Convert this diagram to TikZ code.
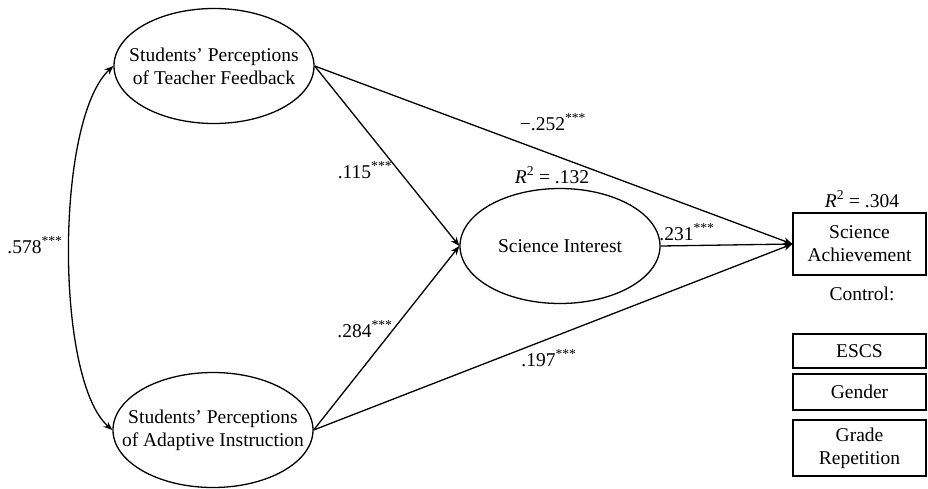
\documentclass[tikz,border=0pt]{standalone}
\usepackage{fontspec}
\setmainfont{Liberation Serif}
\usetikzlibrary{shapes.geometric,arrows.meta}
\begin{document}
\begin{tikzpicture}[x=1pt,y=-1pt,
  every node/.style={font=\fontsize{19.5}{23}\selectfont},
  latent/.style={draw,line width=1.3pt,ellipse,minimum width=200pt,minimum height=115pt,inner sep=0pt},
  intext/.style={align=center,inner sep=0pt},
  obs/.style={draw,line width=1.2pt,rectangle,minimum width=133pt,inner sep=0pt,align=center},
  path/.style={line width=1.3pt,-{Stealth[length=9pt,width=7pt]}},
  lab/.style={anchor=base,inner sep=0pt}]
\useasboundingbox (0,0) rectangle (928,488);
\node[latent] (tf) at (214,66) {};
\node[intext] (tft) at (tf) {Students’ Perceptions\\of Teacher Feedback};
\node[latent] (ai) at (213,430) {};
\node[intext] (ait) at (ai) {Students’ Perceptions\\of Adaptive Instruction};
\node[latent] (si) at (560,246) {};
\node[intext] (sit) at (si) {Science Interest};
\node[obs,minimum height=62pt] (sa) at (859.5,244) {Science\\Achievement};
\node[obs,minimum height=34pt] (escs) at (859.5,351) {ESCS};
\node[obs,minimum height=36pt] (gen) at (859.5,392) {Gender};
\node[obs,minimum height=56pt] (gr) at (859.5,448) {Grade\\Repetition};
\node[lab] (r2a) at (862,207) {\textit{R}\textsuperscript{2} = .304};
\node[lab] (ctl) at (862,300) {Control:};
\node[lab] (r2i) at (552,183) {\textit{R}\textsuperscript{2} = .132};
\draw[path] (tf.east) -- (sa.west);
\draw[path] (ai.east) -- (sa.west);
\draw[path] (si.east) -- (sa.west);
\draw[path] (tf.east) -- (si.west);
\draw[path] (ai.east) -- (si.west);
\draw[line width=1.3pt,{Stealth[length=9pt,width=7pt]}-{Stealth[length=9pt,width=7pt]}] (tf.west) .. controls (55,120) and (55,380) .. (ai.west);
\node[lab] (l1) at (553,130) {−.252\textsuperscript{***}};
\node[lab] (l2) at (365,178) {.115\textsuperscript{***}};
\node[lab] (l3) at (365,337) {.284\textsuperscript{***}};
\node[lab] (l4) at (549,366) {.197\textsuperscript{***}};
\node[lab] (l5) at (687,240) {.231\textsuperscript{***}};
\node[lab] (l6) at (35,253) {.578\textsuperscript{***}};
\end{tikzpicture}
\end{document}
